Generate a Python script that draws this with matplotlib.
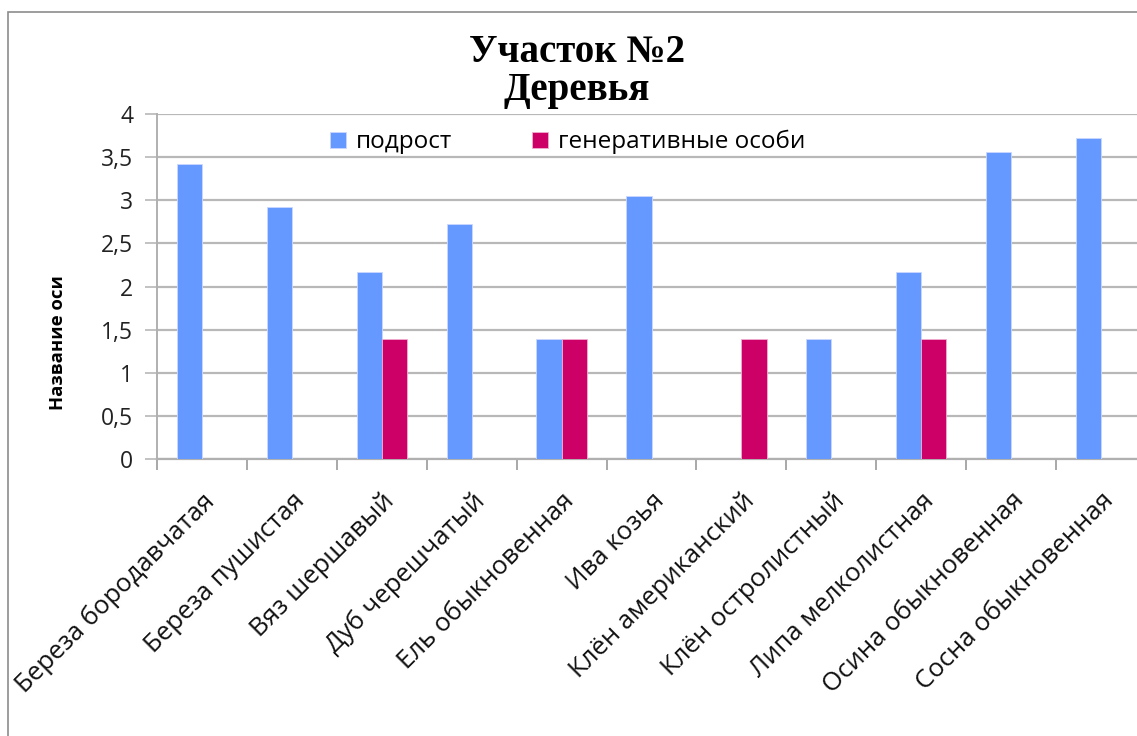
import numpy as np
import matplotlib
matplotlib.use("Agg")
from matplotlib import pyplot as plt
from matplotlib.patches import Rectangle

plt.rcParams['font.family'] = ['Open Sans', 'DejaVu Sans']

species = [
    "Береза бородавчатая",
    "Береза пушистая",
    "Вяз шершавый",
    "Дуб черешчатый",
    "Ель обыкновенная",
    "Ива козья",
    "Клён американский",
    "Клён остролистный",
    "Липа мелколистная",
    "Осина обыкновенная",
    "Сосна обыкновенная",
]
undergrowth = [3.42, 2.92, 2.17, 2.72, 1.39, 3.05, 0, 1.39, 2.17, 3.56, 3.72]
generative = [0, 0, 1.39, 0, 1.39, 0, 1.39, 0, 1.39, 0, 0]
y_ticks = [0, 0.5, 1, 1.5, 2, 2.5, 3, 3.5, 4]
y_tick_labels = ["0", "0,5", "1", "1,5", "2", "2,5", "3", "3,5", "4"]

W, H = 1137, 736
fig = plt.figure(figsize=(W / 100, H / 100), dpi=100)

# outer chart frame, running off the right and bottom edges
fig.patches.append(Rectangle((8 / W, -0.05), 1.2, 1 - 12 / H + 0.05,
                             transform=fig.transFigure, fill=False,
                             edgecolor="#8c8c8c", linewidth=1.2))

ax = fig.add_axes([157 / W, 1 - 459 / H, (1146 - 157) / W, (459 - 114) / H])

x = np.arange(len(species))
bw = 0.28
ax.bar(x - bw / 2, undergrowth, bw, color="#6699FF", edgecolor="#c9d8ff",
       linewidth=0.6, label="подрост", zorder=3)
ax.bar(x + bw / 2, generative, bw, color="#CC0066", edgecolor="#f0b0d0",
       linewidth=0.6, label="генеративные особи", zorder=3)

ax.set_xlim(-0.5, len(species) - 0.5)
ax.set_ylim(0, 4)
ax.set_yticks(y_ticks)
ax.set_yticklabels(y_tick_labels, fontsize=16.5, color="#222222")
ax.yaxis.grid(True, color="#b8b8b8", linewidth=1.6, zorder=0)
ax.tick_params(axis="y", length=9, width=1.2, color="#b8b8b8", pad=8)

ax.set_xticks(np.arange(len(species) + 1) - 0.5, minor=True)
ax.set_xticks(x)
ax.set_xticklabels(species, rotation=45, ha="right", rotation_mode="anchor",
                   fontsize=18.5, color="#111111")
ax.tick_params(axis="x", which="major", length=0, pad=21)
ax.tick_params(axis="x", which="minor", length=8, width=1.2, color="#9a9a9a")

for side in ("top", "right"):
    ax.spines[side].set_visible(False)
ax.spines["left"].set_color("#b0b0b0")
ax.spines["bottom"].set_color("#b0b0b0")
ax.spines["left"].set_linewidth(1.4)
ax.spines["bottom"].set_linewidth(1.6)

fig.text(58 / W, 1 - 343 / H, "Название оси", rotation=90, ha="center",
         va="center", fontsize=13.3, fontweight="bold")

fig.text(577 / W, 1 - 100 / H, "Участок №2\nДеревья", ha="center",
         va="baseline", fontsize=28, fontweight="bold",
         family="Liberation Serif", linespacing=1.05)

ax.legend(loc="upper left", bbox_to_anchor=(330 / W, 1 - 130 / H),
          bbox_transform=fig.transFigure, ncol=2, frameon=False,
          fontsize=17.5, handlelength=0.66, handleheight=0.66,
          handletextpad=0.4, columnspacing=3.3, borderaxespad=0,
          borderpad=0)

fig.savefig("out.png", dpi=100)
